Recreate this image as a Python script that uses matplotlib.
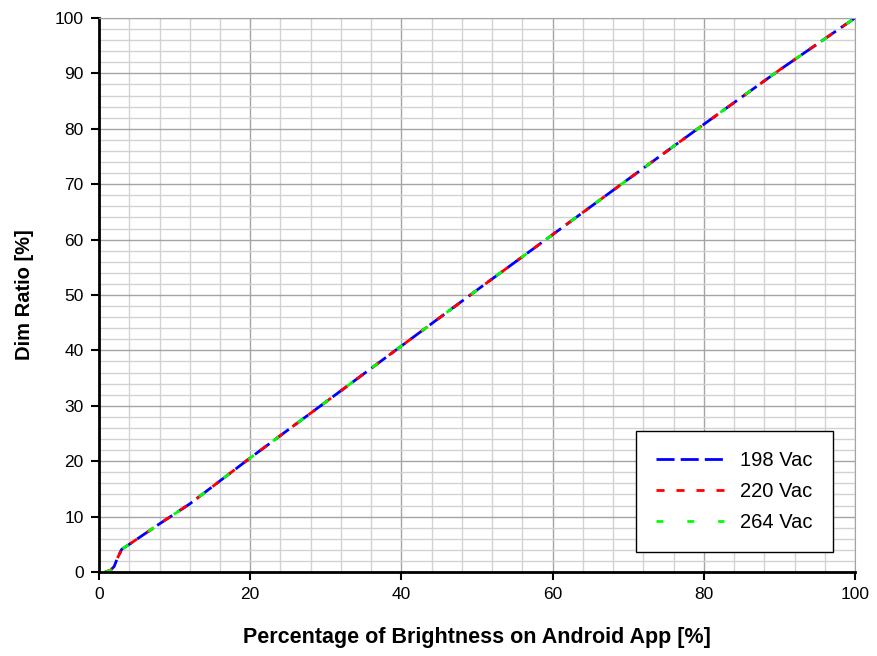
import matplotlib.pyplot as plt
from matplotlib.ticker import MultipleLocator
import numpy as np

plt.rcParams['font.family'] = ['Liberation Sans', 'DejaVu Sans']

# brightness [%] vs dim ratio [%] for three mains voltages
brightness = [0.8, 1.5, 2.0, 2.4, 3.0, 4.0, 8.0, 12.0, 20.0, 30.0, 40.0,
              50.0, 60.0, 70.0, 80.0, 90.0, 100.0]
dim_198 = [0.0, 0.3, 1.0, 2.4, 4.1, 5.0, 8.7, 12.3, 20.6, 30.7, 40.8,
           50.9, 60.9, 70.9, 80.8, 90.6, 100.0]
dim_220 = [0.0, 0.3, 1.0, 2.4, 4.1, 5.0, 8.7, 12.3, 20.6, 30.7, 40.8,
           50.9, 60.9, 70.9, 80.8, 90.6, 100.0]
dim_264 = [0.0, 0.3, 1.0, 2.4, 4.1, 5.0, 8.7, 12.3, 20.6, 30.7, 40.8,
           50.9, 60.9, 70.9, 80.8, 90.6, 100.0]

fig = plt.figure(figsize=(8.78, 6.56), dpi=100)
ax = fig.add_axes([0.1128, 0.128, 0.861, 0.8446])

ax.plot(brightness, dim_198, color='#0000ff', lw=2, dashes=(6.5, 2.2), label='198 Vac')
ax.plot(brightness, dim_220, color='#ff0000', lw=2, dashes=(2.9, 4.3), label='220 Vac')
ax.plot(brightness, dim_264, color='#00ff00', lw=2, dashes=(2.5, 8.6), label='264 Vac')

ax.set_xlim(0, 100)
ax.set_ylim(0, 100)
ax.xaxis.set_major_locator(MultipleLocator(20))
ax.xaxis.set_minor_locator(MultipleLocator(4))
ax.yaxis.set_major_locator(MultipleLocator(10))
ax.yaxis.set_minor_locator(MultipleLocator(2))
ax.grid(which='minor', color='#d2d2d2', lw=1)
ax.grid(which='major', color='#a4a4a4', lw=1)
ax.set_axisbelow(True)

for s in ['top', 'right']:
    ax.spines[s].set_color('#a4a4a4')
for s in ['left', 'bottom']:
    ax.spines[s].set_linewidth(2)
ax.tick_params(which='major', direction='out', length=6, width=1.5,
               labelsize=12.5, pad=5)
ax.tick_params(which='minor', length=0)

ax.set_xlabel('Percentage of Brightness on Android App [%]', fontsize=15.5,
              fontweight='bold', labelpad=18)
ax.set_ylabel('Dim Ratio [%]', fontsize=14.5, fontweight='bold', labelpad=15)

leg = ax.legend(loc='lower right', bbox_to_anchor=(0.971, 0.036), fontsize=14.5,
                fancybox=False, framealpha=1, edgecolor='black',
                handlelength=3.4, borderpad=1.0, labelspacing=0.6,
                handletextpad=0.8, borderaxespad=0)
leg.get_frame().set_linewidth(1)

fig.savefig('out.png', dpi=100)
